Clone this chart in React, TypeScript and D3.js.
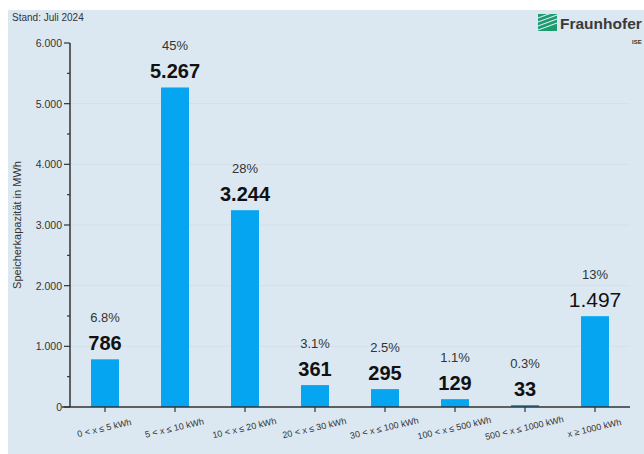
import React from "react";
import * as d3 from "d3";

const categories = [
  "0 < x ≤ 5 kWh",
  "5 < x ≤ 10 kWh",
  "10 < x ≤ 20 kWh",
  "20 < x ≤ 30 kWh",
  "30 < x ≤ 100 kWh",
  "100 < x ≤ 500 kWh",
  "500 < x ≤ 1000 kWh",
  "x ≥ 1000 kWh",
];
const values = [786, 5267, 3244, 361, 295, 129, 33, 1497];
const valueLabels = ["786", "5.267", "3.244", "361", "295", "129", "33", "1.497"];
const shares = ["6.8%", "45%", "28%", "3.1%", "2.5%", "1.1%", "0.3%", "13%"];
const boldValue = [true, true, true, true, true, true, true, false];
const yTicks = [0, 1000, 2000, 3000, 4000, 5000, 6000];
const yTickLabels = ["0", "1.000", "2.000", "3.000", "4.000", "5.000", "6.000"];
const minorTicks = [500, 1500, 2500, 3500, 4500, 5500];

const W = 644;
const H = 454;
const FONT = "'Liberation Sans', Arial, sans-serif";

export default function App() {
  const x = d3.scaleBand<string>().domain(categories).range([70, 630]).paddingInner(0.6).paddingOuter(0.3);
  const y = d3.scaleLinear().domain([0, 6000]).range([407, 43]);
  const bw = x.bandwidth();

  return (
    <svg width={W} height={H} style={{ position: "absolute", left: 0, top: 0 }} fontFamily={FONT}>
      <rect x={0} y={0} width={W} height={H} fill="#ffffff" />
      <rect x={8} y={10} width={W - 8} height={H - 10} fill="#dce8f1" />
      <text x={12} y={21} fontSize={10} fill="#333">Stand: Juli 2024</text>

      {/* logo */}
      <g>
        <rect x={538} y={14} width={19} height={17} fill="#1a9c6e" />
        {[0, 1, 2, 3].map((i) => (
          <line key={i} x1={538} y1={30 - i * 4} x2={557} y2={23 - i * 4} stroke="#dce8f1" strokeWidth={1.2} />
        ))}
        <text x={560} y={29} fontSize={15.5} fontWeight="bold" fill="#3a3a3a">Fraunhofer</text>
        <text x={632} y={44} fontSize={6} fontWeight="bold" fill="#333">ISE</text>
      </g>

      {/* gridlines */}
      {yTicks.slice(1, 6).map((t) => (
        <line key={t} x1={70} x2={630} y1={y(t)} y2={y(t)} stroke="#d3dfe9" strokeWidth={1} />
      ))}

      {/* bars */}
      {values.map((v, i) => (
        <rect key={i} x={x(categories[i])!} y={y(v)} width={bw} height={y(0) - y(v)} fill="#05a5f2" />
      ))}

      {/* y axis */}
      <line x1={70} x2={70} y1={y(6000)} y2={y(0)} stroke="#333" strokeWidth={1.5} />
      {yTicks.map((t, i) => (
        <g key={t}>
          <line x1={64} x2={70} y1={y(t)} y2={y(t)} stroke="#333" strokeWidth={1.2} />
          <text x={62} y={y(t) + 4} fontSize={10.5} textAnchor="end" fill="#333">{yTickLabels[i]}</text>
        </g>
      ))}
      {minorTicks.map((t) => (
        <line key={t} x1={67} x2={70} y1={y(t)} y2={y(t)} stroke="#333" strokeWidth={1.2} />
      ))}
      <text transform={`translate(21,${(y(0) + y(6000)) / 2}) rotate(-90)`} fontSize={11} textAnchor="middle" fill="#333">
        Speicherkapazität in MWh
      </text>

      {/* x axis */}
      <line x1={62} x2={630} y1={y(0)} y2={y(0)} stroke="#333" strokeWidth={1.5} />
      {categories.map((c, i) => {
        const cx = x(c)! + bw / 2;
        return (
          <g key={c}>
            <line x1={cx} x2={cx} y1={y(0)} y2={y(0) + 5} stroke="#333" strokeWidth={1.2} />
            <text transform={`translate(${cx},${y(0) + 24}) rotate(-13)`} fontSize={9} textAnchor="middle" fill="#333">
              {c}
            </text>
          </g>
        );
      })}

      {/* labels */}
      {values.map((v, i) => {
        const cx = x(categories[i])! + bw / 2;
        return (
          <g key={i}>
            <text x={cx} y={y(v) - 9} fontSize={boldValue[i] ? 20 : 21} fontWeight={boldValue[i] ? "bold" : "normal"} textAnchor="middle" fill="#111">
              {valueLabels[i]}
            </text>
            <text x={cx} y={y(v) - 37} fontSize={13} textAnchor="middle" fill="#333">{shares[i]}</text>
          </g>
        );
      })}
    </svg>
  );
}
